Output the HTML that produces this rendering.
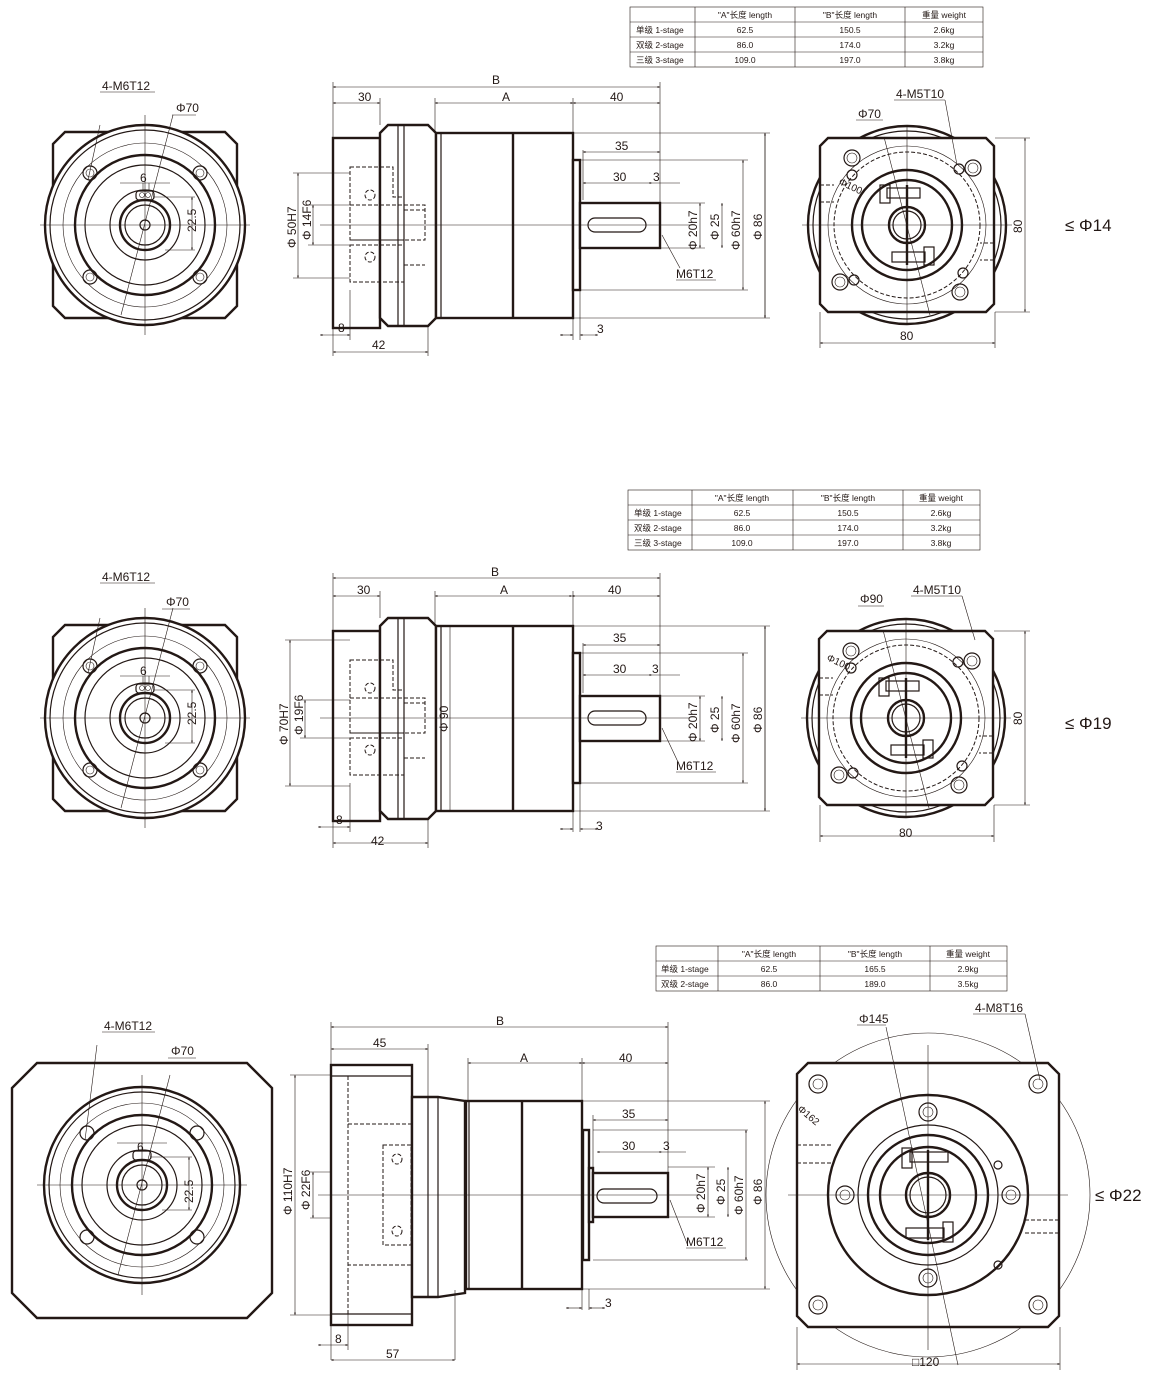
<!DOCTYPE html>
<html><head><meta charset="utf-8"><style>
body{margin:0;background:#fff}
svg{display:block;font-family:"Liberation Sans","Noto Sans CJK SC",sans-serif}
.k{stroke:#231815;fill:none;stroke-width:2.4}
.m{stroke:#231815;fill:none;stroke-width:1.2}
.w{stroke:#231815;fill:#fff;stroke-width:2.4}
.n{stroke:#231815;fill:none;stroke-width:.6}
.d{stroke:#231815;fill:none;stroke-width:1;stroke-dasharray:4 2}
.dd{stroke:#231815;fill:none;stroke-width:.7;stroke-dasharray:2 2}
.dm{stroke:#231815;fill:none;stroke-width:.6;marker-start:url(#a);marker-end:url(#a)}
text{fill:#231815;font-size:12px}
.tb text{font-size:8.5px}
.big{font-size:17px}
</style></head><body>
<svg width="1150" height="1379" viewBox="0 0 1150 1379" xmlns="http://www.w3.org/2000/svg">
<defs>
<marker id="a" viewBox="0 0 10 10" refX="5" refY="5" markerWidth="8" markerHeight="8" orient="auto-start-reverse"><path d="M0,3 L5,5 L0,7z" fill="#231815"/></marker>
<g id="front">
 <path class="w" d="M-80,-93 L80,-93 L92,-81 L92,81 L80,93 L-80,93 L-92,81 L-92,-81Z"/>
 <circle class="w" r="100"/>
 <circle class="m" r="95"/>
 <circle class="n" r="82"/>
 <circle class="k" r="70"/>
 <circle class="m" r="60"/>
 <circle class="m" r="35"/>
 <circle class="k" r="25"/>
 <circle class="m" r="20"/>
 <circle class="m" r="5"/>
 <rect class="m" x="-9" y="-34" width="18" height="9" rx="3"/>
 <circle class="n" cx="-3" cy="-30" r="2.5"/><circle class="n" cx="3" cy="-30" r="2.5"/>
 <g class="m"><circle cx="-55" cy="-52" r="7"/><circle cx="55" cy="-52" r="7"/><circle cx="-55" cy="52" r="7"/><circle cx="55" cy="52" r="7"/></g>
 <g class="n"><circle cx="-55" cy="-52" r="4"/><circle cx="55" cy="-52" r="4"/><circle cx="-55" cy="52" r="4"/><circle cx="55" cy="52" r="4"/></g>
 <line class="n" x1="-105" y1="0" x2="105" y2="0"/><line class="n" x1="0" y1="-110" x2="0" y2="110"/>
 <line class="n" x1="-25" y1="-42" x2="25" y2="-42"/>
 <line class="n" x1="-2" y1="-42" x2="-2" y2="-34"/><line class="n" x1="4" y1="-42" x2="4" y2="-34"/>
 <line class="dm" x1="47" y1="-28" x2="47" y2="25"/><line class="n" x1="8" y1="-28" x2="50" y2="-28"/><line class="n" x1="20" y1="25" x2="50" y2="25"/>
 <line class="n" x1="-24" y1="90" x2="28" y2="-110"/>
 <line class="n" x1="-45" y1="-100" x2="-57" y2="-45"/>
</g>
<g id="side">
 <rect class="w" x="333" y="138" width="47" height="190"/>
 <path class="w" d="M380,133 L388,125 L428,125 L436,133 L436,318 L428,326 L388,326 L380,318Z"/>
 <line class="m" x1="398" y1="125" x2="398" y2="326"/><line class="m" x1="404" y1="125" x2="404" y2="326"/>
 <rect class="w" x="436" y="133" width="137" height="185"/>
 <line class="k" x1="513" y1="133" x2="513" y2="318"/><line class="m" x1="441" y1="133" x2="441" y2="318"/>
 <rect class="w" x="573" y="160" width="7" height="130"/>
 <rect class="w" x="580" y="203" width="80" height="45"/>
 <rect class="m" x="588" y="218" width="58" height="14" rx="7"/>
 <path class="d" d="M350,167 L393,167 L393,197 L404,197 L404,240 L350,240Z"/>
 <path class="d" d="M350,205 L425,205 L425,240 L350,240 M350,245 L404,245 L404,282 L350,282Z M404,210 L425,210 M404,265 L425,265"/>
 <circle class="d" cx="370" cy="195" r="5"/><circle class="d" cx="370" cy="257" r="5"/>
 <line class="n" x1="320" y1="225" x2="690" y2="225"/>
</g>
<g id="rear">
 <circle class="k" r="99"/><circle class="m" r="94"/>
 <path class="w" d="M-79,-87 L79,-87 L87,-79 L87,79 L79,87 L-79,87 L-87,79 L-87,-79Z"/>
 <circle class="n" r="79"/><circle class="d" r="73"/>
 <circle class="k" r="55"/><circle class="k" r="45"/>
 <circle class="k" r="18"/><circle class="m" r="14"/>
 <rect class="m" x="-27" y="-40" width="10" height="18"/><rect class="m" x="-20" y="-37" width="33" height="10"/>
 <rect class="m" x="17" y="22" width="10" height="18"/><rect class="m" x="-15" y="27" width="33" height="10"/>
 <line class="k" x1="0" y1="-40" x2="0" y2="40"/>
 <g class="m"><circle cx="-55" cy="-67" r="8"/><circle cx="66" cy="-57" r="8"/><circle cx="-67" cy="57" r="8"/><circle cx="53" cy="67" r="8"/></g>
 <g class="n"><circle cx="-55" cy="-67" r="5"/><circle cx="66" cy="-57" r="5"/><circle cx="-67" cy="57" r="5"/><circle cx="53" cy="67" r="5"/></g>
 <g class="m"><circle cx="-55" cy="-50" r="5"/><circle cx="52" cy="-56" r="5"/><circle cx="-53" cy="55" r="5"/><circle cx="56" cy="48" r="5"/></g>
 <path class="d" d="M-87,-40 L-73,-40 M-87,-23 L-73,-23 M87,18 L73,18 M87,35 L73,35"/>
 <line class="n" x1="-105" y1="0" x2="105" y2="0"/><line class="n" x1="0" y1="-100" x2="0" y2="100"/>
 <line class="n" x1="-23" y1="-88" x2="23" y2="90"/>
</g>
</defs>

<!-- TABLE 1 -->
<g class="tb">
<rect class="n" x="630" y="7" width="353" height="60"/>
<path class="n" d="M630,22H983M630,37H983M630,52H983M695,7V67M795,7V67M905,7V67"/>
<text x="745" y="18" text-anchor="middle">"A"长度 length</text><text x="850" y="18" text-anchor="middle">"B"长度  length</text><text x="944" y="18" text-anchor="middle">重量 weight</text>
<text x="636" y="33">单级 1-stage</text><text x="745" y="33" text-anchor="middle">62.5</text><text x="850" y="33" text-anchor="middle">150.5</text><text x="944" y="33" text-anchor="middle">2.6kg</text>
<text x="636" y="48">双级 2-stage</text><text x="745" y="48" text-anchor="middle">86.0</text><text x="850" y="48" text-anchor="middle">174.0</text><text x="944" y="48" text-anchor="middle">3.2kg</text>
<text x="636" y="63">三级 3-stage</text><text x="745" y="63" text-anchor="middle">109.0</text><text x="850" y="63" text-anchor="middle">197.0</text><text x="944" y="63" text-anchor="middle">3.8kg</text>
</g>
<!-- TABLE 2 -->
<g class="tb">
<rect class="n" x="628" y="490" width="352" height="60"/>
<path class="n" d="M628,505H980M628,520H980M628,535H980M692,490V550M793,490V550M903,490V550"/>
<text x="742" y="501" text-anchor="middle">"A"长度 length</text><text x="848" y="501" text-anchor="middle">"B"长度  length</text><text x="941" y="501" text-anchor="middle">重量 weight</text>
<text x="634" y="516">单级 1-stage</text><text x="742" y="516" text-anchor="middle">62.5</text><text x="848" y="516" text-anchor="middle">150.5</text><text x="941" y="516" text-anchor="middle">2.6kg</text>
<text x="634" y="531">双级 2-stage</text><text x="742" y="531" text-anchor="middle">86.0</text><text x="848" y="531" text-anchor="middle">174.0</text><text x="941" y="531" text-anchor="middle">3.2kg</text>
<text x="634" y="546">三级 3-stage</text><text x="742" y="546" text-anchor="middle">109.0</text><text x="848" y="546" text-anchor="middle">197.0</text><text x="941" y="546" text-anchor="middle">3.8kg</text>
</g>
<!-- TABLE 3 -->
<g class="tb">
<rect class="n" x="656" y="946" width="351" height="45"/>
<path class="n" d="M656,961H1007M656,976H1007M718,946V991M820,946V991M930,946V991"/>
<text x="769" y="957" text-anchor="middle">"A"长度 length</text><text x="875" y="957" text-anchor="middle">"B"长度  length</text><text x="968" y="957" text-anchor="middle">重量 weight</text>
<text x="661" y="972">单级 1-stage</text><text x="769" y="972" text-anchor="middle">62.5</text><text x="875" y="972" text-anchor="middle">165.5</text><text x="968" y="972" text-anchor="middle">2.9kg</text>
<text x="661" y="987">双级 2-stage</text><text x="769" y="987" text-anchor="middle">86.0</text><text x="875" y="987" text-anchor="middle">189.0</text><text x="968" y="987" text-anchor="middle">3.5kg</text>
</g>

<!-- ROW 1 -->
<use href="#front" transform="translate(145,225)"/>
<text x="102" y="90">4-M6T12</text><line class="n" x1="100" y1="92" x2="155" y2="92"/>
<text x="176" y="112">Φ70</text><line class="n" x1="172" y1="115" x2="196" y2="115"/>
<text x="140" y="182">6</text><text x="196" y="232" transform="rotate(-90 196 232)">22.5</text>
<use href="#side"/>
<line class="dm" x1="333" y1="87" x2="660" y2="87"/><text x="492" y="84">B</text>
<line class="dm" x1="333" y1="103" x2="380" y2="103"/><text x="358" y="101">30</text>
<line class="dm" x1="435" y1="103" x2="573" y2="103"/><text x="502" y="101">A</text>
<line class="dm" x1="573" y1="103" x2="660" y2="103"/><text x="610" y="101">40</text>
<path class="n" d="M333,82V138M380,98V125M435,98V133M573,98V160M660,82V203M765,133V318M583,150V200"/>
<line class="dm" x1="583" y1="152" x2="660" y2="152"/><text x="615" y="150">35</text>
<line class="dm" x1="583" y1="183" x2="652" y2="183"/><text x="613" y="181">30</text><text x="653" y="181">3</text><line class="n" x1="652" y1="183" x2="680" y2="183"/>
<line class="dm" x1="298" y1="173" x2="298" y2="278"/><path class="n" d="M293,173H350M293,278H350M308,205H350M308,245H350"/>
<line class="dm" x1="313" y1="205" x2="313" y2="245"/>
<text x="296" y="248" transform="rotate(-90 296 248)">Φ 50H7</text><text x="311" y="240" transform="rotate(-90 311 240)">Φ 14F6</text>
<path class="n" d="M660,203H705M660,248H705M580,160H748M580,290H748M573,133H770M573,318H770"/>
<line class="dm" x1="700" y1="203" x2="700" y2="248"/><line class="dm" x1="722" y1="203" x2="722" y2="248"/>
<line class="dm" x1="743" y1="160" x2="743" y2="290"/><line class="dm" x1="765" y1="133" x2="765" y2="318"/>
<text x="697" y="250" transform="rotate(-90 697 250)">Φ 20h7</text><text x="719" y="240" transform="rotate(-90 719 240)">Φ 25</text>
<text x="740" y="250" transform="rotate(-90 740 250)">Φ 60h7</text><text x="762" y="240" transform="rotate(-90 762 240)">Φ 86</text>
<line class="n" x1="662" y1="235" x2="680" y2="268"/><text x="676" y="278">M6T12</text><line class="n" x1="676" y1="280" x2="716" y2="280"/>
<path class="n" d="M333,328V356M350,290V340M428,326V356M573,318V340M580,290V340"/>
<line class="dm" x1="320" y1="335" x2="350" y2="335"/><text x="338" y="332">8</text>
<line class="dm" x1="333" y1="352" x2="428" y2="352"/><text x="372" y="349">42</text>
<line class="dm" x1="560" y1="335" x2="573" y2="335"/><line class="dm" x1="580" y1="335" x2="598" y2="335"/><text x="597" y="333">3</text>
<use href="#rear" transform="translate(907,225)"/>
<text x="896" y="98">4-M5T10</text><line class="n" x1="894" y1="100" x2="945" y2="100"/><line class="n" x1="945" y1="100" x2="957" y2="165"/>
<text x="858" y="118">Φ70</text><line class="n" x1="856" y1="120" x2="883" y2="120"/>
<text x="838" y="184" transform="rotate(25 838 184)" style="font-size:10px">Φ100</text>
<path class="n" d="M995,138H1030M995,312H1030M820,312V348M995,312V348"/>
<line class="dm" x1="1025" y1="138" x2="1025" y2="312"/><text x="1022" y="233" transform="rotate(-90 1022 233)">80</text>
<line class="dm" x1="820" y1="343" x2="995" y2="343"/><text x="900" y="340">80</text>
<text x="1065" y="231" class="big">≤ Φ14</text>

<!-- ROW 2 -->
<use href="#front" transform="translate(145,718)"/>
<text x="102" y="581">4-M6T12</text><line class="n" x1="100" y1="583" x2="155" y2="583"/>
<text x="166" y="606">Φ70</text><line class="n" x1="162" y1="609" x2="190" y2="609"/>
<text x="140" y="675">6</text><text x="196" y="725" transform="rotate(-90 196 725)">22.5</text>
<g transform="translate(0,493)"><use href="#side"/></g>
<line class="n" x1="450" y1="626" x2="450" y2="812"/>
<line class="dm" x1="333" y1="578" x2="660" y2="578"/><text x="491" y="576">B</text>
<line class="dm" x1="333" y1="596" x2="380" y2="596"/><text x="357" y="594">30</text>
<line class="dm" x1="435" y1="596" x2="572" y2="596"/><text x="500" y="594">A</text>
<line class="dm" x1="572" y1="596" x2="660" y2="596"/><text x="608" y="594">40</text>
<path class="n" d="M333,573V631M380,591V618M435,591V626M573,591V653M660,573V696M765,626V811M583,643V693"/>
<line class="dm" x1="583" y1="645" x2="660" y2="645"/><text x="613" y="642">35</text>
<line class="dm" x1="583" y1="675" x2="652" y2="675"/><text x="613" y="673">30</text><text x="652" y="673">3</text><line class="n" x1="652" y1="675" x2="680" y2="675"/>
<line class="dm" x1="290" y1="640" x2="290" y2="786"/><path class="n" d="M285,640H350M285,786H350M300,700H350M300,738H350"/>
<line class="dm" x1="305" y1="700" x2="305" y2="738"/>
<text x="288" y="745" transform="rotate(-90 288 745)">Φ 70H7</text><text x="303" y="735" transform="rotate(-90 303 735)">Φ 19F6</text>
<text x="448" y="732" transform="rotate(-90 448 732)">Φ 90</text>
<path class="n" d="M660,696H705M660,741H705M580,653H748M580,783H748M573,626H770M573,811H770"/>
<line class="dm" x1="700" y1="696" x2="700" y2="741"/><line class="dm" x1="722" y1="696" x2="722" y2="741"/>
<line class="dm" x1="743" y1="653" x2="743" y2="783"/><line class="dm" x1="765" y1="626" x2="765" y2="811"/>
<text x="697" y="742" transform="rotate(-90 697 742)">Φ 20h7</text><text x="719" y="733" transform="rotate(-90 719 733)">Φ 25</text>
<text x="740" y="743" transform="rotate(-90 740 743)">Φ 60h7</text><text x="762" y="733" transform="rotate(-90 762 733)">Φ 86</text>
<line class="n" x1="662" y1="728" x2="678" y2="762"/><text x="676" y="770">M6T12</text><line class="n" x1="676" y1="772" x2="716" y2="772"/>
<path class="n" d="M333,821V848M350,783V832M428,819V848M573,811V832M580,783V832"/>
<line class="dm" x1="318" y1="827" x2="350" y2="827"/><text x="336" y="824">8</text>
<line class="dm" x1="333" y1="843" x2="428" y2="843"/><text x="371" y="845">42</text>
<line class="dm" x1="560" y1="829" x2="573" y2="829"/><line class="dm" x1="580" y1="829" x2="598" y2="829"/><text x="596" y="830">3</text>
<use href="#rear" transform="translate(906,718)"/>
<text x="913" y="594">4-M5T10</text><line class="n" x1="911" y1="596" x2="962" y2="596"/><line class="n" x1="962" y1="596" x2="975" y2="640"/>
<text x="860" y="603">Φ90</text><line class="n" x1="858" y1="606" x2="884" y2="606"/>
<text x="826" y="660" transform="rotate(25 826 660)" style="font-size:10px">Φ100</text>
<path class="n" d="M994,631H1030M994,805H1030M820,805V842M994,805V842"/>
<line class="dm" x1="1025" y1="631" x2="1025" y2="805"/><text x="1022" y="725" transform="rotate(-90 1022 725)">80</text>
<line class="dm" x1="820" y1="836" x2="994" y2="836"/><text x="899" y="837">80</text>
<text x="1065" y="729" class="big">≤ Φ19</text>

<!-- ROW 3 -->
<path class="w" d="M37,1063 L247,1063 L272,1088 L272,1293 L247,1318 L37,1318 L12,1293 L12,1088Z"/>
<g transform="translate(142,1185)">
 <circle class="k" r="98"/><circle class="m" r="93"/><circle class="n" r="82"/>
 <circle class="k" r="70"/><circle class="m" r="60"/><circle class="m" r="35"/>
 <circle class="k" r="25"/><circle class="m" r="20"/><circle class="m" r="5"/>
 <rect class="m" x="-9" y="-34" width="18" height="9" rx="3"/>
 <g class="m"><circle cx="-55" cy="-52" r="7"/><circle cx="55" cy="-52" r="7"/><circle cx="-55" cy="52" r="7"/><circle cx="55" cy="52" r="7"/></g>
 <line class="n" x1="-105" y1="0" x2="105" y2="0"/><line class="n" x1="0" y1="-110" x2="0" y2="110"/>
 <line class="n" x1="-25" y1="-42" x2="25" y2="-42"/>
 <line class="dm" x1="47" y1="-28" x2="47" y2="25"/><line class="n" x1="8" y1="-28" x2="50" y2="-28"/><line class="n" x1="20" y1="25" x2="50" y2="25"/>
 <line class="n" x1="-24" y1="90" x2="28" y2="-110"/><line class="n" x1="-45" y1="-140" x2="-57" y2="-45"/>
</g>
<text x="104" y="1030">4-M6T12</text><line class="n" x1="102" y1="1032" x2="155" y2="1032"/>
<text x="171" y="1055">Φ70</text><line class="n" x1="168" y1="1058" x2="196" y2="1058"/>
<text x="137" y="1151">6</text><text x="193" y="1203" transform="rotate(-90 193 1203)">22.5</text>
<!-- side 3 -->
<rect class="w" x="331" y="1065" width="81" height="260"/>
<path class="m" d="M331,1076H412M331,1314H412"/>
<path class="d" d="M348,1076V1314M348,1124H423V1265H348M383,1145H411V1245H383Z M411,1152H455V1238H411"/>
<circle class="d" cx="397" cy="1159" r="5"/><circle class="d" cx="397" cy="1231" r="5"/>
<path class="w" d="M412,1097 L438,1097 L465,1101 L465,1293 L438,1297 L412,1297Z"/>
<line class="m" x1="428" y1="1097" x2="428" y2="1297"/><line class="m" x1="438" y1="1097" x2="438" y2="1297"/>
<rect class="w" x="466" y="1101" width="116" height="188"/>
<line class="k" x1="522" y1="1101" x2="522" y2="1289"/><line class="m" x1="469" y1="1101" x2="469" y2="1289"/>
<rect class="w" x="583" y="1130" width="6" height="130"/><rect class="w" x="589" y="1168" width="4" height="54"/>
<rect class="w" x="593" y="1173" width="75" height="44"/>
<rect class="m" x="597" y="1189" width="60" height="14" rx="7"/>
<line class="n" x1="318" y1="1195" x2="700" y2="1195"/>
<line class="dm" x1="331" y1="1027" x2="668" y2="1027"/><text x="496" y="1025">B</text>
<line class="dm" x1="331" y1="1049" x2="428" y2="1049"/><text x="373" y="1047">45</text>
<line class="dm" x1="468" y1="1063" x2="582" y2="1063"/><text x="520" y="1062">A</text>
<line class="dm" x1="582" y1="1063" x2="668" y2="1063"/><text x="619" y="1062">40</text>
<path class="n" d="M331,1022V1065M428,1044V1097M468,1058V1101M582,1058V1130M668,1022V1173M593,1115V1168"/>
<line class="dm" x1="593" y1="1120" x2="668" y2="1120"/><text x="622" y="1118">35</text>
<line class="dm" x1="597" y1="1152" x2="662" y2="1152"/><text x="622" y="1150">30</text><text x="663" y="1150">3</text><line class="n" x1="662" y1="1152" x2="686" y2="1152"/>
<path class="n" d="M290,1075H331M290,1315H331M310,1172H331M310,1218H331"/>
<line class="dm" x1="295" y1="1075" x2="295" y2="1315"/><line class="dm" x1="313" y1="1172" x2="313" y2="1218"/>
<text x="292" y="1215" transform="rotate(-90 292 1215)">Φ 110H7</text><text x="310" y="1210" transform="rotate(-90 310 1210)">Φ 22F6</text>
<path class="n" d="M668,1167H715M668,1217H715M593,1130H748M593,1260H748M583,1101H770M583,1289H770"/>
<line class="dm" x1="708" y1="1167" x2="708" y2="1217"/><line class="dm" x1="728" y1="1167" x2="728" y2="1217"/>
<line class="dm" x1="746" y1="1130" x2="746" y2="1260"/><line class="dm" x1="765" y1="1101" x2="765" y2="1289"/>
<text x="705" y="1213" transform="rotate(-90 705 1213)">Φ 20h7</text><text x="725" y="1205" transform="rotate(-90 725 1205)">Φ 25</text>
<text x="743" y="1215" transform="rotate(-90 743 1215)">Φ 60h7</text><text x="762" y="1205" transform="rotate(-90 762 1205)">Φ 86</text>
<line class="n" x1="670" y1="1200" x2="688" y2="1246"/><text x="686" y="1246">M6T12</text><line class="n" x1="686" y1="1248" x2="726" y2="1248"/>
<path class="n" d="M331,1325V1360M348,1314V1350M455,1290V1360M582,1289V1310M589,1289V1310"/>
<line class="dm" x1="318" y1="1345" x2="348" y2="1345"/><text x="335" y="1343">8</text>
<line class="dm" x1="331" y1="1360" x2="455" y2="1360"/><text x="386" y="1358">57</text>
<line class="dm" x1="566" y1="1308" x2="582" y2="1308"/><line class="dm" x1="589" y1="1308" x2="605" y2="1308"/><text x="605" y="1307">3</text>
<!-- rear 3 -->
<circle class="n" cx="928" cy="1195" r="162"/>
<g transform="translate(928,1195)">
 <path class="w" d="M-120,-132 L120,-132 L131,-121 L131,121 L120,132 L-120,132 L-131,121 L-131,-121Z"/>
 <circle class="k" r="100"/><circle class="m" r="70"/><circle class="k" r="60"/><circle class="k" r="48"/>
 <circle class="k" r="22"/><circle class="m" r="18"/>
 <rect class="m" x="-26" y="-47" width="10" height="20"/><rect class="m" x="-18" y="-43" width="38" height="10"/>
 <rect class="m" x="15" y="27" width="10" height="20"/><rect class="m" x="-22" y="33" width="38" height="10"/>
 <line class="k" x1="0" y1="-45" x2="0" y2="45"/>
 <g class="m"><circle cx="-110" cy="-111" r="9"/><circle cx="110" cy="-111" r="9"/><circle cx="-110" cy="110" r="9"/><circle cx="110" cy="110" r="9"/>
 <circle cx="0" cy="-83" r="9"/><circle cx="0" cy="83" r="9"/><circle cx="-83" cy="0" r="9"/><circle cx="83" cy="0" r="9"/><circle cx="70" cy="-30" r="4"/><circle cx="70" cy="70" r="4"/></g>
 <g class="n"><circle cx="-110" cy="-111" r="5"/><circle cx="110" cy="-111" r="5"/><circle cx="-110" cy="110" r="5"/><circle cx="110" cy="110" r="5"/>
 <circle cx="0" cy="-83" r="5"/><circle cx="0" cy="83" r="5"/><circle cx="-83" cy="0" r="5"/><circle cx="83" cy="0" r="5"/></g>
 <path class="d" d="M-131,-50 L-95,-50 M-131,-32 L-95,-32 M131,25 L95,25 M131,38 L95,38"/>
 <line class="n" x1="-140" y1="0" x2="140" y2="0"/><line class="n" x1="0" y1="-150" x2="0" y2="155"/>
 <line class="n" x1="-42" y1="-168" x2="30" y2="170"/>
</g>
<text x="859" y="1023">Φ145</text><line class="n" x1="857" y1="1025" x2="886" y2="1025"/>
<text x="975" y="1012">4-M8T16</text><line class="n" x1="973" y1="1014" x2="1025" y2="1014"/><line class="n" x1="1025" y1="1014" x2="1040" y2="1080"/>
<text x="797" y="1110" transform="rotate(40 797 1110)" style="font-size:10px">Φ162</text>
<path class="n" d="M797,1327V1370M1060,1327V1370"/>
<line class="dm" x1="797" y1="1364" x2="1060" y2="1364"/><text x="912" y="1366">□120</text>
<text x="1095" y="1201" class="big">≤ Φ22</text>
</svg>
</body></html>
